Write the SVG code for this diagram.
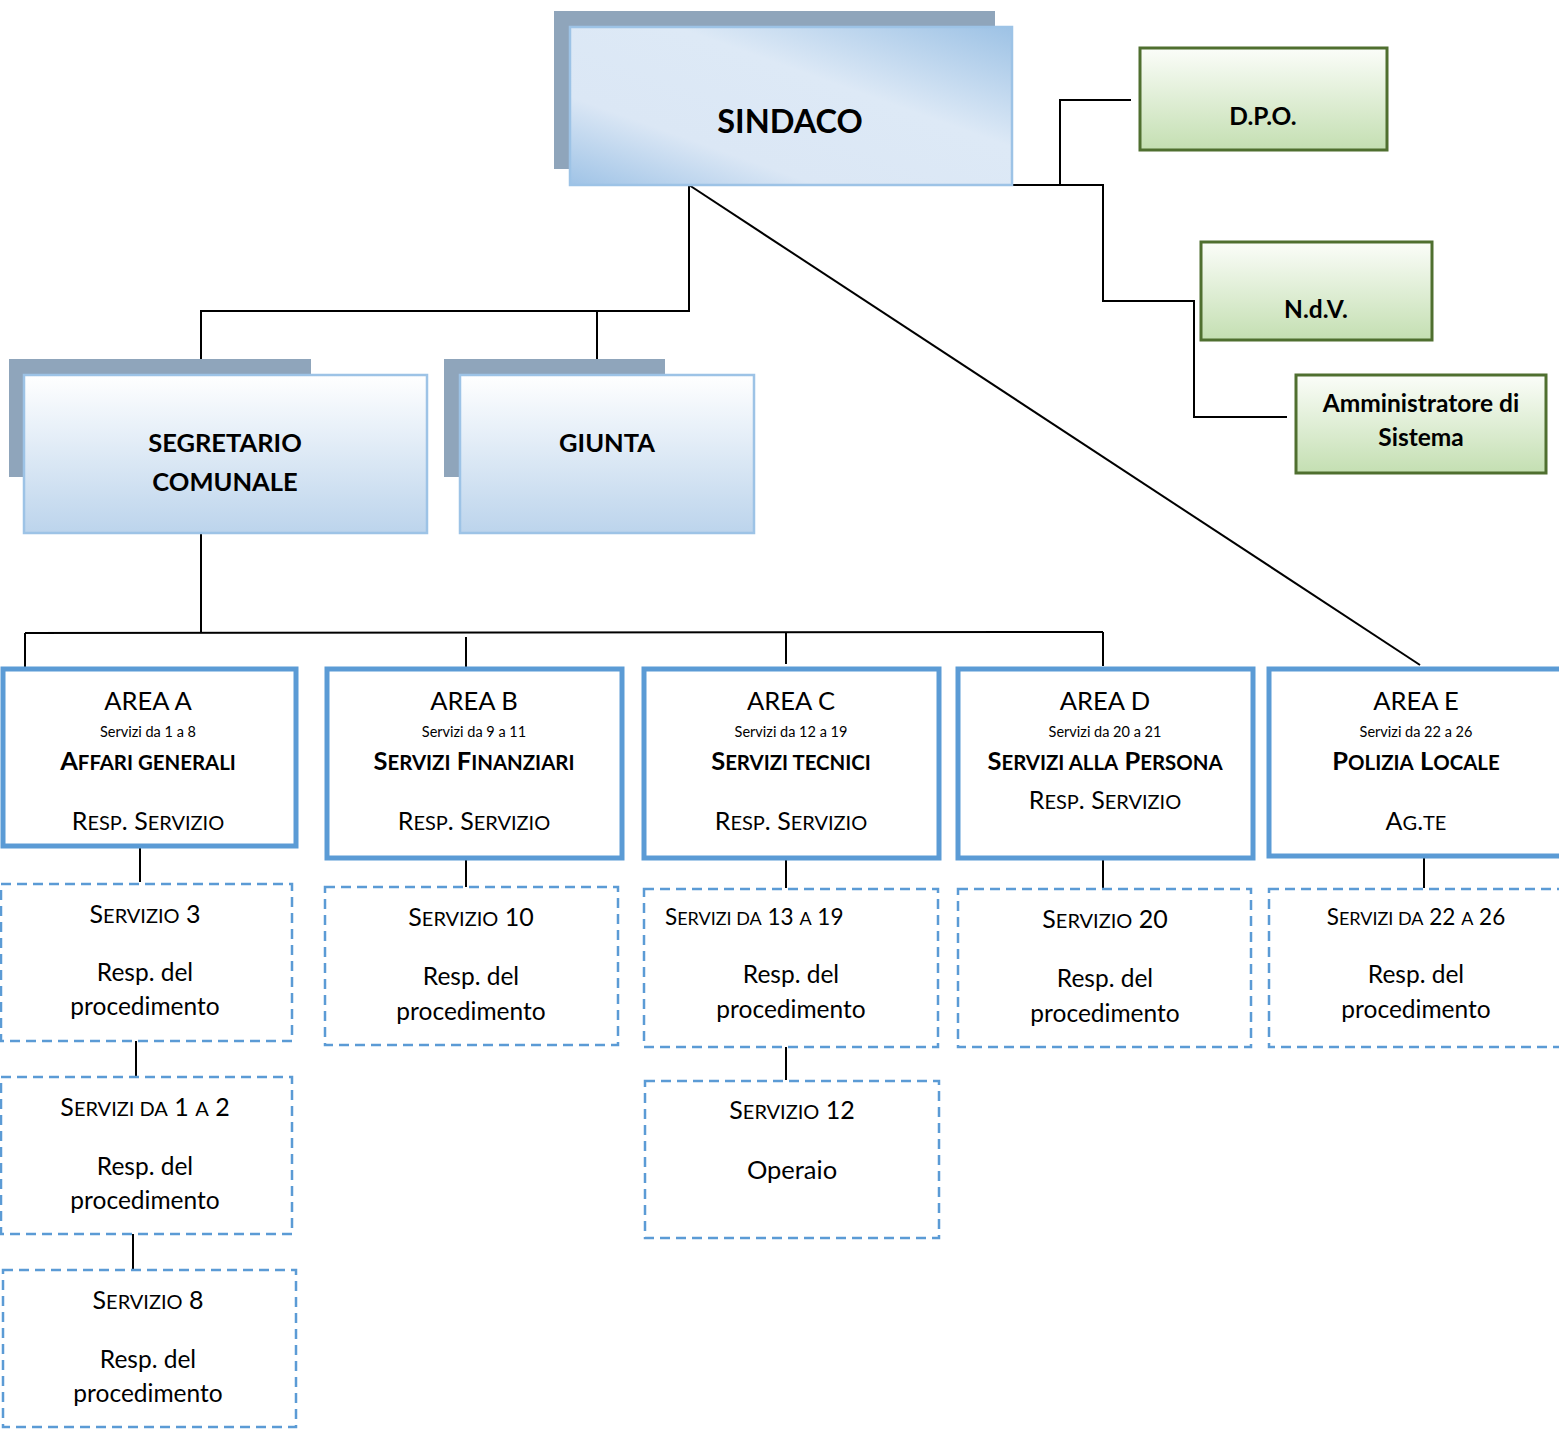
<svg xmlns="http://www.w3.org/2000/svg" width="1559" height="1438" viewBox="0 0 1559 1438">
<defs>
<linearGradient id="gS" x1="0" y1="1" x2="1" y2="0">
<stop offset="0" stop-color="#9fc3e6"/>
<stop offset="0.28" stop-color="#dbe7f5"/>
<stop offset="0.62" stop-color="#dde9f6"/>
<stop offset="1" stop-color="#9dc2e5"/>
</linearGradient>
<linearGradient id="gV" x1="0" y1="0" x2="0" y2="1">
<stop offset="0" stop-color="#ffffff"/>
<stop offset="1" stop-color="#bcd4ec"/>
</linearGradient>
<linearGradient id="gG" x1="0" y1="0" x2="0" y2="1">
<stop offset="0" stop-color="#fbfdf9"/>
<stop offset="1" stop-color="#c4dfb2"/>
</linearGradient>
</defs>
<style>
text{font-family:Lato,"Open Sans","Liberation Sans",sans-serif;fill:#000;text-anchor:middle}
.shadow{fill:#8fa5bb}
.blue{stroke:#9dc3e6;stroke-width:2.5}
.green{fill:url(#gG);stroke:#4f6f2f;stroke-width:3}
.area{fill:#fff;stroke:#5b9bd5;stroke-width:5}
.dash{fill:#fff;stroke:#5b9bd5;stroke-width:2.5;stroke-dasharray:10 6}
.h1{font-weight:bold;font-size:32.5px}
.h2{font-weight:bold;font-size:25.5px}
.h3{font-weight:bold;font-size:24.5px}
.ar{font-size:25.5px}
.sm{font-size:14.5px}
.tt{font-weight:bold;font-size:25.5px}
.rs{font-size:25px}
.sv{font-size:25px}
.sv2{font-size:22.5px}
.pr{font-size:24.5px}
.s{font-size:0.8em}
.conn line,.conn polyline{stroke:#000;stroke-width:2;fill:none}
</style>

<g class="conn">
<polyline points="988,185 1060,185 1060,100 1131,100"/>
<polyline points="1060,185 1103,185 1103,301 1194,301 1194,417 1287,417"/>
<polyline points="689,185 689,311 201,311 201,375"/>
<line x1="597" y1="311" x2="597" y2="375"/>
<line x1="689" y1="185" x2="1420" y2="665" stroke-width="1.8"/>
<line x1="201" y1="533" x2="201" y2="632"/>
<line x1="25" y1="633" x2="1103" y2="632"/>
<line x1="25" y1="633" x2="25" y2="668"/>
<line x1="466" y1="637" x2="466" y2="668"/>
<line x1="786" y1="632" x2="786" y2="664"/>
<line x1="1103" y1="632" x2="1103" y2="666"/>
<line x1="140" y1="846" x2="140" y2="882"/>
<line x1="466" y1="859" x2="466" y2="887"/>
<line x1="786" y1="859" x2="786" y2="888"/>
<line x1="1103" y1="859" x2="1103" y2="888"/>
<line x1="1424" y1="857" x2="1424" y2="888"/>
<line x1="136" y1="1041" x2="136" y2="1076"/>
<line x1="133" y1="1234" x2="133" y2="1269"/>
<line x1="786" y1="1047" x2="786" y2="1080"/>
</g>

<g id="sindaco">
<rect class="shadow" x="554" y="11" width="441" height="158"/>
<rect class="blue" x="570" y="27" width="442" height="158" fill="url(#gS)"/>
<text class="h1" x="790" y="133">SINDACO</text>
</g>

<g id="segretario">
<rect class="shadow" x="9" y="359" width="302" height="118"/>
<rect class="blue" x="24" y="375" width="403" height="158" fill="url(#gV)"/>
<text class="h2" x="225" y="452">SEGRETARIO</text>
<text class="h2" x="225" y="491">COMUNALE</text>
</g>

<g id="giunta">
<rect class="shadow" x="444" y="359" width="221" height="118"/>
<rect class="blue" x="460" y="375" width="294" height="158" fill="url(#gV)"/>
<text class="h2" x="607" y="452">GIUNTA</text>
</g>

<g id="dpo">
<rect class="green" x="1140" y="48" width="247" height="102"/>
<text class="h3" x="1263" y="125">D.P.O.</text>
</g>

<g id="ndv">
<rect class="green" x="1201" y="242" width="231" height="98"/>
<text class="h3" x="1316" y="318">N.d.V.</text>
</g>

<g id="admin">
<rect class="green" x="1296" y="375" width="250" height="98"/>
<text class="h3" x="1421" y="412">Amministratore di</text>
<text class="h3" x="1421" y="446">Sistema</text>
</g>

<g id="areaA">
<rect class="area" x="3" y="669" width="293" height="177"/>
<text class="ar" x="148" y="710">AREA A</text>
<text class="sm" x="148" y="737">Servizi da 1 a 8</text>
<text class="tt" x="148" y="770">A<tspan class="s">FFARI GENERALI</tspan></text>
<text class="rs" x="148" y="830">R<tspan class="s">ESP</tspan>. S<tspan class="s">ERVIZIO</tspan></text>
</g>

<g id="areaB">
<rect class="area" x="327" y="669" width="295" height="189"/>
<text class="ar" x="474" y="710">AREA B</text>
<text class="sm" x="474" y="737">Servizi da 9 a 11</text>
<text class="tt" x="474" y="770">S<tspan class="s">ERVIZI</tspan> F<tspan class="s">INANZIARI</tspan></text>
<text class="rs" x="474" y="830">R<tspan class="s">ESP</tspan>. S<tspan class="s">ERVIZIO</tspan></text>
</g>

<g id="areaC">
<rect class="area" x="644" y="669" width="295" height="189"/>
<text class="ar" x="791" y="710">AREA C</text>
<text class="sm" x="791" y="737">Servizi da 12 a 19</text>
<text class="tt" x="791" y="770">S<tspan class="s">ERVIZI TECNICI</tspan></text>
<text class="rs" x="791" y="830">R<tspan class="s">ESP</tspan>. S<tspan class="s">ERVIZIO</tspan></text>
</g>

<g id="areaD">
<rect class="area" x="958" y="669" width="295" height="189"/>
<text class="ar" x="1105" y="710">AREA D</text>
<text class="sm" x="1105" y="737">Servizi da 20 a 21</text>
<text class="tt" x="1105" y="770">S<tspan class="s">ERVIZI ALLA</tspan> P<tspan class="s">ERSONA</tspan></text>
<text class="rs" x="1105" y="809">R<tspan class="s">ESP</tspan>. S<tspan class="s">ERVIZIO</tspan></text>
</g>

<g id="areaE">
<rect class="area" x="1269" y="669" width="300" height="187"/>
<text class="ar" x="1416" y="710">AREA E</text>
<text class="sm" x="1416" y="737">Servizi da 22 a 26</text>
<text class="tt" x="1416" y="770">P<tspan class="s">OLIZIA</tspan> L<tspan class="s">OCALE</tspan></text>
<text class="rs" x="1416" y="830">A<tspan class="s">G</tspan>.<tspan class="s">TE</tspan></text>
</g>

<g id="servA1">
<rect class="dash" x="1" y="884" width="291" height="157"/>
<text class="sv" x="145" y="923">S<tspan class="s">ERVIZIO</tspan> 3</text>
<text class="pr" x="145" y="981">Resp. del</text>
<text class="pr" x="145" y="1015">procedimento</text>
</g>

<g id="servA2">
<rect class="dash" x="1" y="1077" width="291" height="157"/>
<text class="sv" x="145" y="1116">S<tspan class="s">ERVIZI DA</tspan> 1 <tspan class="s">A</tspan> 2</text>
<text class="pr" x="145" y="1175">Resp. del</text>
<text class="pr" x="145" y="1209">procedimento</text>
</g>

<g id="servA3">
<rect class="dash" x="3" y="1270" width="293" height="157"/>
<text class="sv" x="148" y="1309">S<tspan class="s">ERVIZIO</tspan> 8</text>
<text class="pr" x="148" y="1368">Resp. del</text>
<text class="pr" x="148" y="1402">procedimento</text>
</g>

<g id="servB1">
<rect class="dash" x="325" y="887" width="293" height="158"/>
<text class="sv" x="471" y="926">S<tspan class="s">ERVIZIO</tspan> 10</text>
<text class="pr" x="471" y="985">Resp. del</text>
<text class="pr" x="471" y="1020">procedimento</text>
</g>

<g id="servC1">
<rect class="dash" x="644" y="889" width="294" height="158"/>
<text class="sv2" x="665" y="925" style="text-anchor:start">S<tspan class="s">ERVIZI DA</tspan> 13 <tspan class="s">A</tspan> 19</text>
<text class="pr" x="791" y="983">Resp. del</text>
<text class="pr" x="791" y="1018">procedimento</text>
</g>

<g id="servC2">
<rect class="dash" x="645" y="1081" width="294" height="157"/>
<text class="sv" x="792" y="1119">S<tspan class="s">ERVIZIO</tspan> 12</text>
<text class="ar" x="792" y="1179">Operaio</text>
</g>

<g id="servD1">
<rect class="dash" x="958" y="889" width="293" height="158"/>
<text class="sv" x="1105" y="928">S<tspan class="s">ERVIZIO</tspan> 20</text>
<text class="pr" x="1105" y="987">Resp. del</text>
<text class="pr" x="1105" y="1022">procedimento</text>
</g>

<g id="servE1">
<rect class="dash" x="1269" y="889" width="300" height="158"/>
<text class="sv2" x="1416" y="925">S<tspan class="s">ERVIZI DA</tspan> 22 <tspan class="s">A</tspan> 26</text>
<text class="pr" x="1416" y="983">Resp. del</text>
<text class="pr" x="1416" y="1018">procedimento</text>
</g>
</svg>
